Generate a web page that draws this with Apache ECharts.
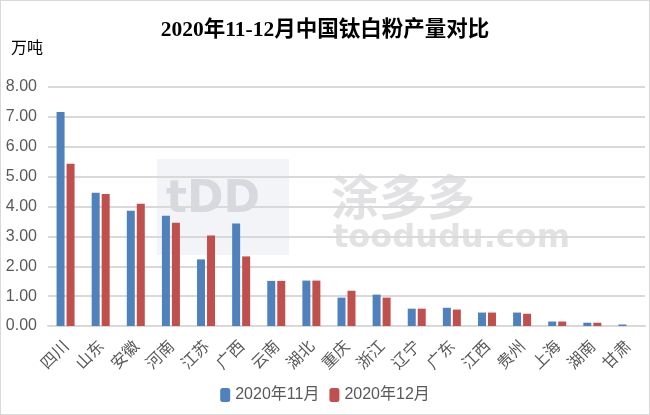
<!DOCTYPE html>
<html><head><meta charset="utf-8">
<script src="https://cdn.jsdelivr.net/npm/echarts@6/dist/echarts.min.js"></script>
<style>html,body{margin:0;padding:0;background:#fff}#c{width:648px;height:413px;border:1px solid #d9d9d9}</style>
</head><body><div id="c"></div>
<script>
var categories = ['四川','山东','安徽','河南','江苏','广西','云南','湖北','重庆','浙江','辽宁','广东','江西','贵州','上海','湖南','甘肃'];
var nov = [7.16, 4.46, 3.86, 3.69, 2.23, 3.43, 1.51, 1.52, 0.95, 1.05, 0.58, 0.61, 0.45, 0.45, 0.15, 0.11, 0.05];
var dec = [5.43, 4.42, 4.09, 3.46, 3.03, 2.33, 1.51, 1.52, 1.18, 0.95, 0.58, 0.55, 0.45, 0.41, 0.15, 0.11, 0];
var seriesNames = ['2020年11月','2020年12月'];
var yTicks = {min: 0, max: 8, interval: 1};

var chart = echarts.init(document.getElementById('c'));
var txt = '#595959';
chart.setOption({
  animation: false,
  title: {text: '2020年11-12月中国钛白粉产量对比', left: 'center', top: 14,
    textStyle: {fontFamily: '"Liberation Serif","Noto Sans CJK SC"', fontWeight: 'bold', fontSize: 21.5, color: '#000'}},
  graphic: [
    {type: 'text', left: 10, top: 38, style: {text: '万吨', font: '16px "Noto Sans CJK SC"', fill: '#000'}},
    {type: 'rect', z: -10, shape: {x: 156, y: 158, width: 132, height: 96}, style: {fill: '#f3f4f8'}},
    {type: 'text', z: -9, left: 165, top: 178, style: {text: 'tDD', font: 'bold 44px "DejaVu Sans"', fill: 'rgba(190,190,195,0.5)'}},
    {type: 'text', z: -9, left: 330, top: 172, style: {text: '涂多多', font: 'bold 48px "Noto Sans CJK SC"', fill: 'rgba(190,190,195,0.45)'}},
    {type: 'text', z: -9, left: 332, top: 222, style: {text: 'toodudu.com', font: 'bold 32px "DejaVu Sans"', fill: 'rgba(190,190,195,0.45)'}}
  ],
  legend: {data: seriesNames, bottom: 6, left: 'center', itemWidth: 10, itemHeight: 14, itemGap: 10,
    textStyle: {fontSize: 16, color: txt, fontFamily: '"Liberation Sans","Noto Sans CJK SC"'}},
  grid: {left: 47, right: 4, top: 86, bottom: 88},
  xAxis: {type: 'category', data: categories,
    axisLine: {lineStyle: {color: '#d9d9d9', width: 2}}, axisTick: {show: false},
    axisLabel: {rotate: 45, fontSize: 16, color: txt, margin: 17, interval: 0, fontFamily: '"Noto Sans CJK SC"'}},
  yAxis: {type: 'value', min: yTicks.min, max: yTicks.max, interval: yTicks.interval,
    axisLine: {show: false}, axisTick: {show: false},
    splitLine: {lineStyle: {color: '#d9d9d9', width: 2}},
    axisLabel: {fontSize: 16, color: txt, margin: 11, fontFamily: '"Liberation Sans"', formatter: function(v){return v.toFixed(2);}}},
  series: [
    {name: seriesNames[0], type: 'bar', data: nov, barWidth: 8, barGap: '25%', itemStyle: {color: '#4F81BD'}},
    {name: seriesNames[1], type: 'bar', data: dec, barWidth: 8, itemStyle: {color: '#C0504D'}}
  ]
});
</script></body></html>
